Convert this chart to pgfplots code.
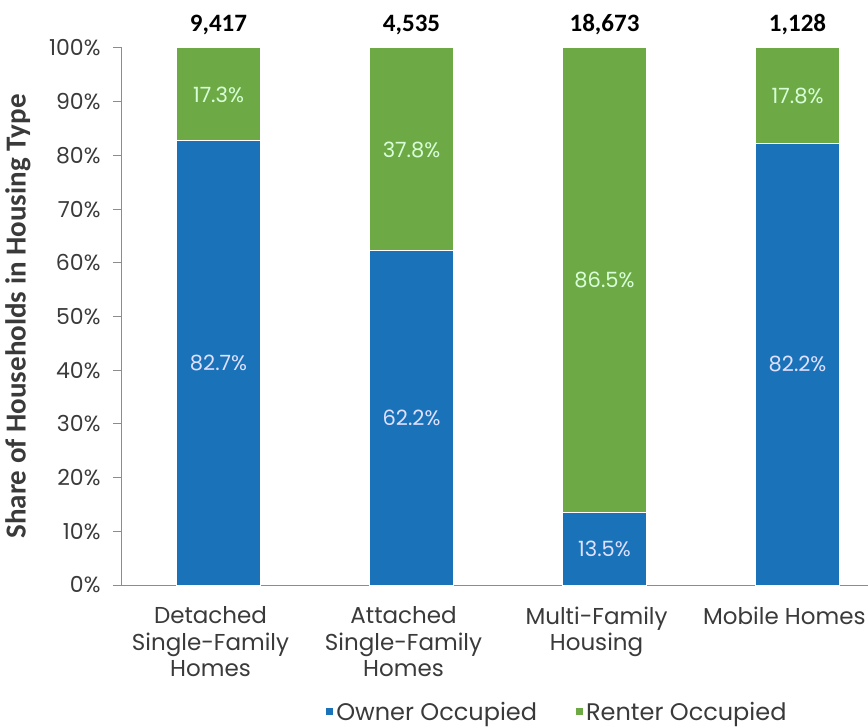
\documentclass[border=0pt]{standalone}
\usepackage{pgfplots}
\pgfplotsset{compat=1.18}
\usepackage{pgfplotstable}
\usepackage{fontspec}
\setmainfont{Poppins}
\newfontfamily\calib{Carlito}
\definecolor{ownerblue}{HTML}{1A73B8}
\definecolor{rentgreen}{HTML}{6DAA45}
\definecolor{axisgray}{HTML}{8C8C8C}
\definecolor{textgray}{HTML}{3A3A3A}
\pgfplotstableread{
x owner rent top total
0 82.7 17.3 100 9,417
1 62.2 37.8 100 4,535
2 13.5 86.5 100 18,673
3 82.2 17.8 100 1,128
}\datatable
\begin{document}
\begin{tikzpicture}
\path[use as bounding box] (-122pt,-143pt) rectangle (746pt,585pt);
\begin{axis}[
  scale only axis,
  width=746pt, height=537pt,
  at={(0pt,0pt)}, anchor=south west,
  ybar stacked,
  bar width=84pt,
  xmin=-0.5, xmax=3.365,
  ymin=0, ymax=100,
  axis x line*=bottom, axis y line*=left,
  axis line style={axisgray, line width=1pt, -},
  xtick=data,
  xticklabels={{Detached\\Single-Family\\Homes},{Attached\\Single-Family\\Homes},{Multi-Family\\Housing},{\makebox[152pt][r]{Mobile Homes}}},
  xticklabel style={align=center, font=\fontsize{23}{26.5}\selectfont, text=textgray, yshift=-9pt, xshift=-8pt},
  x tick style={draw=none},
  ytick={0,10,...,100},
  yticklabel={\pgfmathprintnumber{\tick}\%},
  /pgf/number format/assume math mode=true,
  yticklabel style={font=\fontsize{22}{24}\selectfont, text=textgray, xshift=-9pt},
  y tick style={axisgray, line width=1pt},
  tick align=outside,
  major tick length=9pt,
  ylabel={\calib\bfseries Share of Households in Housing Type},
  every axis y label/.style={at={(rel axis cs:0,0.5)}, xshift=-104pt, rotate=90, anchor=center,
    font=\fontsize{29}{31}\selectfont, text=textgray},
  legend style={at={(0.583,-0.2365)}, anchor=center, draw=none, fill=none,
    font=\fontsize{24}{26}\selectfont, text=textgray, legend columns=2,
    /tikz/every even column/.append style={column sep=36pt}},
  legend image code/.code={\fill[#1] (1pt,-4pt) rectangle (9pt,4pt);},
  nodes near coords style={font=\fontsize{21}{23}\selectfont},
]
\addplot[fill=ownerblue, draw=white, line width=1pt,
  point meta=explicit symbolic,
  nodes near coords={\pgfplotspointmeta\%},
  every node near coord/.append style={anchor=center, text=white!88!blue}]
  table[x=x, y=owner, meta=owner]{\datatable};
\addplot[fill=rentgreen, draw=white, line width=1pt,
  point meta=explicit symbolic,
  nodes near coords={\pgfplotspointmeta\%},
  every node near coord/.append style={anchor=center, text=white!85!green}]
  table[x=x, y=rent, meta=rent]{\datatable};
\legend{Owner Occupied, Renter Occupied}
\end{axis}
\begin{axis}[
  scale only axis,
  width=746pt, height=537pt,
  at={(0pt,0pt)}, anchor=south west,
  xmin=-0.5, xmax=3.365,
  ymin=0, ymax=100,
  hide axis, clip=false,
]
\addplot[draw=none, mark=none,
  point meta=explicit symbolic,
  nodes near coords={\calib\bfseries\pgfplotspointmeta},
  every node near coord/.append style={anchor=center, text=black, yshift=23pt, font=\fontsize{25}{27}\selectfont}]
  table[x=x, y=top, meta=total]{\datatable};
\end{axis}
\end{tikzpicture}
\end{document}
